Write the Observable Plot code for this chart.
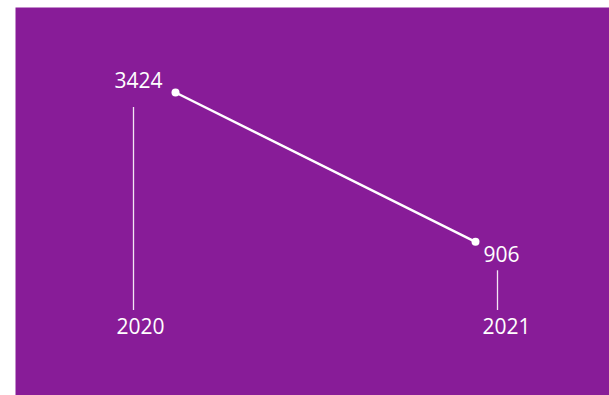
<!DOCTYPE html>
<html>
<head>
<meta charset="utf-8">
<script src="https://cdn.jsdelivr.net/npm/d3@7"></script>
<script src="https://cdn.jsdelivr.net/npm/@observablehq/plot@0.6"></script>
<style>
  html, body { margin: 0; padding: 0; background: #ffffff; }
</style>
</head>
<body>
<div id="chart"></div>
<script>
const years = [2020, 2021];
const values = [3424, 906];
const yearLabels = ["2020", "2021"];

const data = years.map((y, i) => ({year: y, value: values[i], label: yearLabels[i]}));
const first = data.filter(d => d.year === years[0]);
const last = data.filter(d => d.year === years[1]);

const font = "'Open Sans', sans-serif";
const purple = "#881c98";

const chart = Plot.plot({
  width: 609,
  height: 395,
  marginLeft: 15,
  marginTop: 7,
  marginRight: 0,
  marginBottom: 0,
  style: {background: "#ffffff", fontFamily: font},
  x: {domain: years, type: "linear", range: [175, 475], axis: null},
  y: {domain: [0, 3424], range: [295, 92], axis: null},
  marks: [
    Plot.frame({fill: purple, stroke: null}),
    Plot.ruleX(first, {x: "year", y1: "value", y2: 0, dx: -42, insetTop: 15, insetBottom: -15, stroke: "#f3e6f3", strokeWidth: 1.3}),
    Plot.ruleX(last, {x: "year", y1: "value", y2: 0, dx: 22, insetTop: 29, insetBottom: -15, stroke: "#f3e6f3", strokeWidth: 1.3}),
    Plot.line(data, {x: "year", y: "value", stroke: "#ffffff", strokeWidth: 2.5}),
    Plot.dot(data, {x: "year", y: "value", r: 4, fill: "#ffffff", stroke: null}),
    Plot.text(first, {x: "year", y: "value", text: d => String(d.value), dx: -37, dy: -11, fill: "#ffffff", fontSize: 21, fontFamily: font}),
    Plot.text(last, {x: "year", y: "value", text: d => String(d.value), dx: 26, dy: 13, fill: "#ffffff", fontSize: 21, fontFamily: font}),
    Plot.text(first, {x: "year", y: 0, text: "label", dx: -35, dy: 32, fill: "#ffffff", fontSize: 21, fontFamily: font}),
    Plot.text(last, {x: "year", y: 0, text: "label", dx: 31, dy: 32, fill: "#ffffff", fontSize: 21, fontFamily: font})
  ]
});
document.getElementById("chart").appendChild(chart);
</script>
</body>
</html>
